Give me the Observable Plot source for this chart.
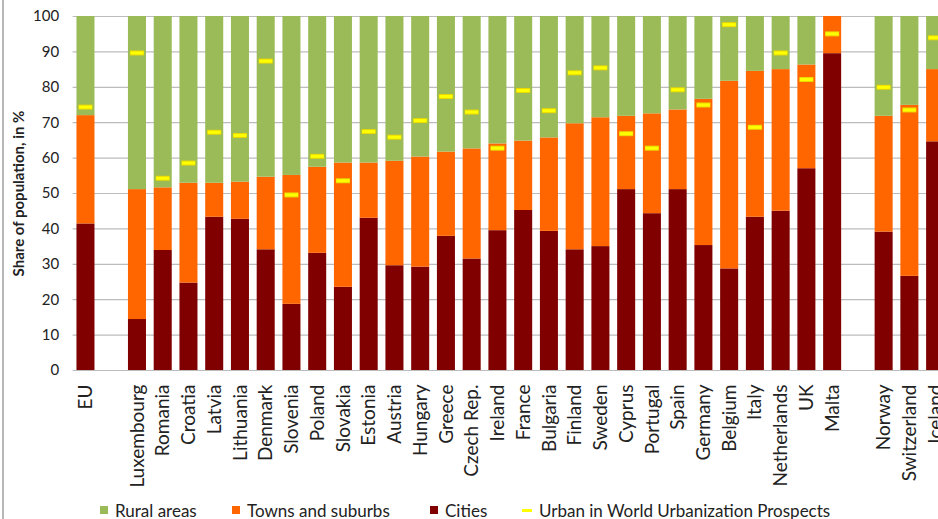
<!DOCTYPE html>
<html>
<head>
<meta charset="utf-8">
<script src="https://cdn.jsdelivr.net/npm/d3@7"></script>
<script src="https://cdn.jsdelivr.net/npm/@observablehq/plot@0.6"></script>
<style>
  html, body { margin: 0; padding: 0; background: #fff; overflow: hidden; width: 938px; height: 519px; }
  #wrap { position: relative; width: 938px; height: 519px; overflow: hidden; font-family: Lato, "Open Sans", sans-serif; }
  #chart svg { max-width: none !important; display: block; }
  #frame { position: absolute; left: 2px; top: 0; width: 0; height: 519px; border-left: 2px solid #b8b8b8; }
  #legend { position: absolute; top: 499px; left: 0; width: 938px; height: 22px; font-size: 17px; color: #222; }
  .item { position: absolute; top: 0; display: flex; align-items: center; height: 22px; white-space: nowrap; }
  .sw { width: 8px; height: 8px; margin-right: 7px; }
  .dash { width: 10px; height: 3px; margin-right: 7px; background: #FFFF00; }
</style>
</head>
<body>
<div id="wrap">
  <div id="chart"></div>
  <div id="frame"></div>
  <div id="legend"></div>
</div>
<script>
// Categories (blank strings are spacer slots between groups)
const categories = ["EU", "", "Luxembourg", "Romania", "Croatia", "Latvia", "Lithuania", "Denmark", "Slovenia",
  "Poland", "Slovakia", "Estonia", "Austria", "Hungary", "Greece", "Czech Rep.", "Ireland", "France",
  "Bulgaria", "Finland", "Sweden", "Cyprus", "Portugal", "Spain", "Germany", "Belgium", "Italy",
  "Netherlands", "UK", "Malta", " ", "Norway", "Switzerland", "Iceland"];

// Shares of population, in % (null for spacer slots)
const cities = [41.4, null, 14.4, 33.9, 24.7, 43.3, 42.7, 34.1, 18.7,
  33.1, 23.5, 43.0, 29.6, 29.2, 37.9, 31.5, 39.5, 45.2,
  39.3, 34.1, 35.0, 51.1, 44.3, 51.1, 35.3, 28.7, 43.3,
  45.0, 57.0, 89.5, null, 39.1, 26.6, 64.6];
const towns = [30.6, null, 36.7, 17.7, 28.2, 9.6, 10.5, 20.5, 36.4,
  24.3, 35.1, 15.6, 29.5, 31.1, 23.8, 31.1, 24.5, 19.6,
  26.4, 35.6, 36.4, 20.7, 28.2, 22.5, 41.3, 53.0, 41.2,
  40.0, 29.3, 10.5, null, 32.7, 48.3, 20.4];
const rural = [28.0, null, 48.9, 48.4, 47.1, 47.1, 46.8, 45.4, 44.9,
  42.6, 41.4, 41.4, 40.9, 39.7, 38.3, 37.4, 36.0, 35.2,
  34.3, 30.3, 28.6, 28.2, 27.5, 26.4, 23.4, 18.3, 15.5,
  15.0, 13.7, 0.0, null, 28.2, 25.1, 15.0];
// Urban share in World Urbanization Prospects
const wup = [74.4, null, 89.7, 54.3, 58.6, 67.3, 66.4, 87.4, 49.6,
  60.5, 53.6, 67.5, 65.9, 70.6, 77.4, 73.0, 62.8, 79.1,
  73.4, 84.1, 85.5, 66.9, 62.8, 79.3, 75.0, 97.7, 68.7,
  89.7, 82.2, 95.1, null, 80.0, 73.6, 94.0];

const yTicks = [0, 10, 20, 30, 40, 50, 60, 70, 80, 90, 100];
const seriesNames = ["Rural areas", "Towns and suburbs", "Cities"];
const seriesColors = ["#9BBB59", "#FF6600", "#800000"];
const wupName = "Urban in World Urbanization Prospects";
const yTitle = "Share of population, in %";

// Build long table
const rows = [];
categories.forEach((c, i) => {
  if (cities[i] == null) return;
  rows.push({cat: c, series: "Cities", value: cities[i]});
  rows.push({cat: c, series: "Towns and suburbs", value: towns[i]});
  rows.push({cat: c, series: "Rural areas", value: rural[i]});
});
const wupRows = categories.map((c, i) => ({cat: c, value: wup[i]})).filter(d => d.value != null);

const chart = Plot.plot({
  width: 950,
  height: 490,
  marginLeft: 72.6,
  marginRight: 2,
  marginTop: 16,
  marginBottom: 120,
  style: {fontFamily: "Lato, 'Open Sans', sans-serif", color: "#222", background: "#fff", maxWidth: "none"},
  x: {domain: categories, paddingInner: 0.3, paddingOuter: 0.15, round: false, label: null},
  y: {domain: [0, 100], label: null},
  color: {domain: seriesNames, range: seriesColors},
  marks: [
    Plot.gridY(yTicks, {stroke: "#bcbcbc", strokeOpacity: 1, strokeWidth: 1.2}),
    Plot.barY(rows, Plot.stackY({
      x: "cat", y: "value", fill: "series",
      order: ["Cities", "Towns and suburbs", "Rural areas"]
    })),
    Plot.tickY(wupRows, {x: "cat", y: "value", stroke: "#E8D800", strokeWidth: 5, insetLeft: 2, insetRight: 2}),
    Plot.tickY(wupRows, {x: "cat", y: "value", stroke: "#FFFF00", strokeWidth: 3, insetLeft: 2.5, insetRight: 2.5}),
    Plot.axisY(yTicks, {tickSize: 0, tickPadding: 14, fontSize: 15, label: null}),
    Plot.axisX({tickSize: 0, tickPadding: 14, tickRotate: -90, fontSize: 19, label: null}),
    Plot.text([yTitle], {frameAnchor: "left", textAnchor: "middle", lineAnchor: "middle", rotate: -90, dx: -54, fontWeight: "bold", fontSize: 15, fill: "#222"})
  ]
});
document.getElementById("chart").appendChild(chart);

// Legend (HTML, below the SVG)
const legend = document.getElementById("legend");
const legendLeft = [100, 232, 430, 522];
seriesNames.forEach((name, i) => {
  const it = document.createElement("div");
  it.className = "item";
  it.style.left = legendLeft[i] + "px";
  const sw = document.createElement("span");
  sw.className = "sw";
  sw.style.background = seriesColors[i];
  it.appendChild(sw);
  it.appendChild(document.createTextNode(name));
  legend.appendChild(it);
});
const w = document.createElement("div");
w.className = "item";
w.style.left = legendLeft[3] + "px";
const dash = document.createElement("span");
dash.className = "dash";
w.appendChild(dash);
w.appendChild(document.createTextNode(wupName));
legend.appendChild(w);
</script>
</body>
</html>
